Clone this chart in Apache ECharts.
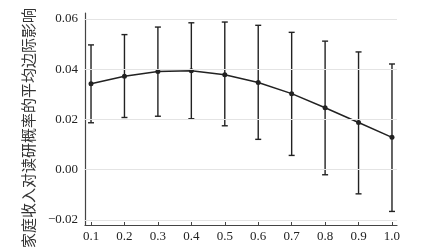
<!DOCTYPE html>
<html>
<head>
<meta charset="utf-8">
<script src="https://cdn.jsdelivr.net/npm/echarts@6/dist/echarts.min.js"></script>
<style>html,body{margin:0;padding:0;background:#fff}#c{width:421px;height:251px}</style>
</head>
<body>
<div id="c"></div>
<script>
const xValues = [0.1, 0.2, 0.3, 0.4, 0.5, 0.6, 0.7, 0.8, 0.9, 1.0];
const meanValues = [0.0342, 0.0372, 0.0391, 0.0394, 0.0378, 0.0347, 0.0303, 0.0247, 0.0188, 0.0129];
const lowerValues = [0.0187, 0.0208, 0.0213, 0.0203, 0.0175, 0.0121, 0.0057, -0.0020, -0.0096, -0.0166];
const upperValues = [0.0497, 0.0538, 0.0568, 0.0585, 0.0588, 0.0575, 0.0547, 0.0512, 0.0469, 0.0421];
const xTicks = [0.1, 0.2, 0.3, 0.4, 0.5, 0.6, 0.7, 0.8, 0.9, 1.0];
const yTicks = [-0.02, 0.00, 0.02, 0.04, 0.06];
const yName = '家庭收入对读研概率的平均边际影响';

const chart = echarts.init(document.getElementById('c'), null, {renderer: 'canvas'});
const font = 'Liberation Serif, "Times New Roman", "Noto Sans CJK SC", serif';
const dark = '#222';
const errData = xValues.map((x, i) => [x, lowerValues[i], upperValues[i]]);
const lineData = xValues.map((x, i) => [x, meanValues[i]]);

chart.setOption({
  animation: false,
  backgroundColor: '#fff',
  grid: {left: 85, right: 24, top: 13, bottom: 23, containLabel: false},
  xAxis: {
    type: 'value', min: 0.082, max: 1.015,
    axisLine: {show: true, onZero: false, lineStyle: {color: '#444', width: 1.2}},
    axisTick: {show: true, inside: true, length: 3, lineStyle: {color: '#444'}, customValues: xTicks},
    axisLabel: {customValues: xTicks, formatter: v => v.toFixed(1), color: '#222', fontFamily: font, fontSize: 13, margin: 5},
    splitLine: {show: false}
  },
  yAxis: {
    type: 'value', min: -0.022, max: 0.0624,
    name: yName, nameLocation: 'middle', nameRotate: 90, nameGap: 49,
    nameTextStyle: {fontFamily: '"Noto Sans CJK SC", serif', fontSize: 15, color: '#333', padding: [0, 18, 0, 0]},
    axisLine: {show: true, onZero: false, lineStyle: {color: '#444', width: 1.2}},
    axisTick: {show: true, inside: true, length: 3, lineStyle: {color: '#444'}, customValues: yTicks},
    axisLabel: {customValues: yTicks, formatter: v => v.toFixed(2).replace('-', '\u2212'), color: '#222', fontFamily: font, fontSize: 13, margin: 7},
    splitLine: {show: false}
  },
  series: [
    {
      type: 'line', data: [], silent: true,
      markLine: {
        silent: true, symbol: 'none', label: {show: false},
        lineStyle: {color: '#e4e4e4', width: 1.2, type: 'solid'},
        data: yTicks.map(v => ({yAxis: v}))
      }
    },
    {
      type: 'custom',
      data: errData,
      renderItem: function (params, api) {
        const x = api.value(0);
        const lo = api.coord([x, api.value(1)]);
        const hi = api.coord([x, api.value(2)]);
        const cw = 3;
        const style = {stroke: dark, lineWidth: 1.4};
        return {
          type: 'group',
          children: [
            {type: 'line', shape: {x1: lo[0], y1: lo[1], x2: hi[0], y2: hi[1]}, style},
            {type: 'line', shape: {x1: lo[0] - cw, y1: lo[1], x2: lo[0] + cw, y2: lo[1]}, style},
            {type: 'line', shape: {x1: hi[0] - cw, y1: hi[1], x2: hi[0] + cw, y2: hi[1]}, style}
          ]
        };
      },
      z: 3
    },
    {
      type: 'line', data: lineData, symbol: 'circle', symbolSize: 5,
      lineStyle: {color: dark, width: 1.5},
      itemStyle: {color: dark},
      z: 4
    }
  ]
});
</script>
</body>
</html>
